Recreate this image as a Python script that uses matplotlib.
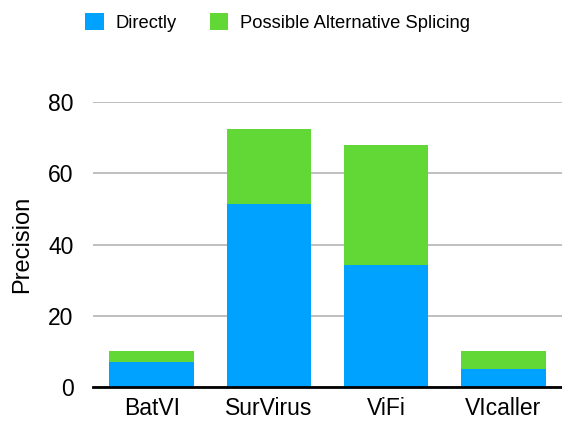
import numpy as np
import matplotlib.pyplot as plt

plt.rcParams['font.family'] = ['Liberation Sans', 'DejaVu Sans']

tools = ["BatVI", "SurVirus", "ViFi", "VIcaller"]
directly = [7.1, 51.3, 34.2, 5.0]
splicing = [2.9, 21.0, 33.7, 5.0]

blue = '#00A2FF'
green = '#61D836'

fig = plt.figure(figsize=(5.62, 4.25), dpi=100)
ax = fig.add_axes([93/562, 1 - 387/425, 469/562, 285/425])

x = np.arange(len(tools))
ax.bar(x, directly, width=0.72, color=blue, label='Directly', zorder=3)
ax.bar(x, splicing, width=0.72, bottom=directly, color=green,
       label='Possible Alternative Splicing', zorder=3)

ax.set_xlim(-0.5, len(tools) - 0.5)
ax.set_ylim(0, 80)
ax.set_yticks([0, 20, 40, 60, 80])
ax.set_xticks(x)
ax.set_xticklabels(tools, fontsize=16.5)
ax.tick_params(axis='y', labelsize=16.5, length=0, pad=14)
ax.tick_params(axis='x', length=0, pad=7)
ax.yaxis.grid(True, color='#b4b4b4', linewidth=1.2, zorder=0)
ax.set_axisbelow(True)
for s in ['top', 'right', 'left']:
    ax.spines[s].set_visible(False)
ax.spines['bottom'].set_linewidth(2)
ax.spines['bottom'].set_zorder(4)
ax.set_ylabel('Precision', fontsize=17, labelpad=11)

fig.legend(loc='upper center', bbox_to_anchor=(0.494, 1.008), ncol=2, frameon=False,
           fontsize=13.2, handlelength=1.0, handleheight=1.0, columnspacing=1.8,
           handletextpad=0.65)

fig.savefig('out.png', dpi=100)
